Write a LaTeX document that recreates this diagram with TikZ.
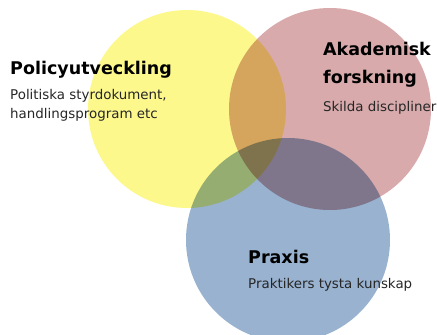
\documentclass[tikz,border=0pt]{standalone}
\usepackage{fontspec}
\setmainfont{DejaVu Sans}
\definecolor{policyyellow}{RGB}{252,248,140}
\definecolor{akademirosa}{RGB}{216,170,172}
\definecolor{praxisblue}{RGB}{152,178,208}
\tikzset{
  rubrik/.style={anchor=base west, inner sep=0pt, font=\fontsize{17.5}{20}\selectfont\bfseries},
  brodtext/.style={anchor=base west, inner sep=0pt, font=\fontsize{13.4}{16}\selectfont, text=black!85}
}
\begin{document}
\begin{tikzpicture}[x=1pt, y=-1pt]
      \useasboundingbox (0,0) rectangle (437,335);
      \begin{scope}
        \clip (0,0) rectangle (437,335);
        \begin{scope}[blend group=multiply]
          \fill[policyyellow] (187,109) circle (99);
          \fill[akademirosa] (330,109) circle (101);
          \fill[praxisblue] (288,240) circle (102);
        \end{scope}
      \end{scope}
      \draw
        (10,74) node[rubrik] (policy){Policyutveckling}
        (10,99) node[brodtext] (policy1){Politiska styrdokument,}
        (10,118) node[brodtext] (policy2){handlingsprogram etc}
        (323,55) node[rubrik] (akad1){Akademisk}
        (323,83) node[rubrik] (akad2){forskning}
        (323,111) node[brodtext] (akad3){Skilda discipliner}
        (248,263) node[rubrik] (praxis){Praxis}
        (248,288) node[brodtext] (praxis1){Praktikers tysta kunskap};
    \end{tikzpicture}
\end{document}
